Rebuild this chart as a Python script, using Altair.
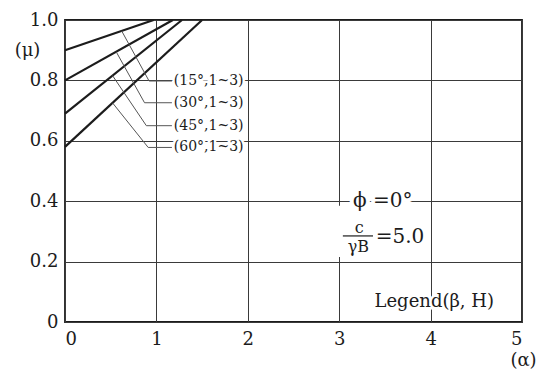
import altair as alt
import pandas as pd

# Lines: mu rises linearly from its value at alpha = 0 until it reaches 1.0
series = ["(15°,1~3)", "(30°,1~3)", "(45°,1~3)", "(60°,1~3)"]
mu_at_zero = [0.90, 0.80, 0.69, 0.58]
alpha_at_one = [0.97, 1.18, 1.28, 1.50]

# Leader lines: start point on each line, elbow, and the label position
leader_start_alpha = [0.62, 0.56, 0.52, 0.52]
leader_elbow_alpha = [0.92, 0.87, 0.89, 0.91]
label_alpha = [1.19, 1.19, 1.19, 1.19]
label_mu = [0.798, 0.726, 0.650, 0.578]

x_ticks = [0, 1, 2, 3, 4, 5]
y_ticks = [0, 0.2, 0.4, 0.6, 0.8, 1.0]

SERIF = "DejaVu Serif"
INK = "#1c1c1c"

line_rows = []
for name, b, a1 in zip(series, mu_at_zero, alpha_at_one):
    line_rows.append({"series": name, "alpha": 0.0, "mu": b, "order": 0})
    line_rows.append({"series": name, "alpha": a1, "mu": 1.0, "order": 1})
lines_df = pd.DataFrame(line_rows)

leader_rows = []
for name, b, a1, s, e, la, lm in zip(series, mu_at_zero, alpha_at_one,
                                     leader_start_alpha, leader_elbow_alpha,
                                     label_alpha, label_mu):
    mu_s = b + (1.0 - b) / a1 * s
    leader_rows.append({"series": name, "alpha": s, "mu": mu_s, "order": 0})
    leader_rows.append({"series": name, "alpha": e, "mu": lm, "order": 1})
    leader_rows.append({"series": name, "alpha": la - 0.02, "mu": lm, "order": 2})
leaders_df = pd.DataFrame(leader_rows)

labels_df = pd.DataFrame({"series": series, "alpha": label_alpha, "mu": label_mu})

x_scale = alt.Scale(domain=[0, 5], nice=False, zero=False)
y_scale = alt.Scale(domain=[0, 1], nice=False, zero=False)

x_axis = alt.Axis(values=x_ticks, title="(α)", titleX=458, titleY=38,
                  titleAlign="center", titleBaseline="middle",
                  labelPadding=8, format="d")
y_axis = alt.Axis(values=y_ticks, title="(μ)", titleAngle=0, titleX=-38, titleY=30,
                  titleAlign="center", titleBaseline="middle",
                  labelPadding=7,
                  labelExpr="datum.value == 0 ? '0' : format(datum.value, '.1f')")

curves = alt.Chart(lines_df).mark_line(color=INK, strokeWidth=2.2).encode(
    x=alt.X("alpha:Q", scale=x_scale, axis=x_axis),
    y=alt.Y("mu:Q", scale=y_scale, axis=y_axis),
    detail="series:N",
    order="order:Q",
)

leaders = alt.Chart(leaders_df).mark_line(color="#555555", strokeWidth=1).encode(
    x=alt.X("alpha:Q", scale=x_scale),
    y=alt.Y("mu:Q", scale=y_scale),
    detail="series:N",
    order="order:Q",
)


def halo_text(df, size, align="left", text_field="text", halo=5):
    """Text drawn twice: a white halo that breaks the grid, then the ink."""
    enc = dict(
        x=alt.X("alpha:Q", scale=x_scale),
        y=alt.Y("mu:Q", scale=y_scale),
        text=f"{text_field}:N",
    )
    back = alt.Chart(df).mark_text(
        font=SERIF, fontSize=size, align=align, baseline="middle",
        color="white", stroke="white", strokeWidth=halo,
    ).encode(**enc)
    ink = alt.Chart(df).mark_text(
        font=SERIF, fontSize=size, align=align, baseline="middle", color=INK,
    ).encode(**enc)
    return back + ink


series_labels = halo_text(labels_df, 14, text_field="series")

# White panel behind the soil-parameter note
panel_df = pd.DataFrame({"alpha": [2.97], "alpha2": [3.92], "mu": [0.215], "mu2": [0.385]})
panel = alt.Chart(panel_df).mark_rect(color="white").encode(
    x=alt.X("alpha:Q", scale=x_scale), x2="alpha2:Q",
    y=alt.Y("mu:Q", scale=y_scale), y2="mu2:Q",
)

phi_df = pd.DataFrame({"alpha": [3.15], "mu": [0.40], "text": ["ϕ =0°"]})
num_df = pd.DataFrame({"alpha": [3.22], "mu": [0.312], "text": ["c"]})
den_df = pd.DataFrame({"alpha": [3.21], "mu": [0.250], "text": ["γB"]})
eq_df = pd.DataFrame({"alpha": [3.40], "mu": [0.283], "text": ["=5.0"]})
legend_df = pd.DataFrame({"alpha": [4.04], "mu": [0.066], "text": ["Legend(β, H)"]})
bar_df = pd.DataFrame({"alpha": [3.04], "alpha2": [3.37], "mu": [0.285]})

phi_text = halo_text(phi_df, 20, halo=8)
num_text = halo_text(num_df, 16, align="center")
den_text = halo_text(den_df, 16, align="center")
eq_text = halo_text(eq_df, 20)
legend_text = halo_text(legend_df, 18, align="center")

frac_bar = alt.Chart(bar_df).mark_rule(color=INK, strokeWidth=1.2).encode(
    x=alt.X("alpha:Q", scale=x_scale),
    x2="alpha2:Q",
    y=alt.Y("mu:Q", scale=y_scale),
)

chart = alt.layer(
    curves, panel, leaders, series_labels, phi_text, num_text, den_text,
    frac_bar, eq_text, legend_text,
).properties(
    width=457,
    height=302,
    autosize=alt.AutoSizeParams(type="none"),
    padding={"left": 65, "top": 20, "right": 14, "bottom": 56},
    background="white",
).configure_view(
    stroke="#1c1c1c", strokeWidth=1.8,
).configure_axis(
    grid=True, gridColor="#3a3a3a", gridWidth=1,
    domain=False, ticks=False,
    labelFont=SERIF, labelFontSize=18, labelColor=INK,
    titleFont=SERIF, titleFontSize=18, titleFontWeight="normal", titleColor=INK,
)

chart.save("out.html", embed_options={"renderer": "svg", "actions": False})
